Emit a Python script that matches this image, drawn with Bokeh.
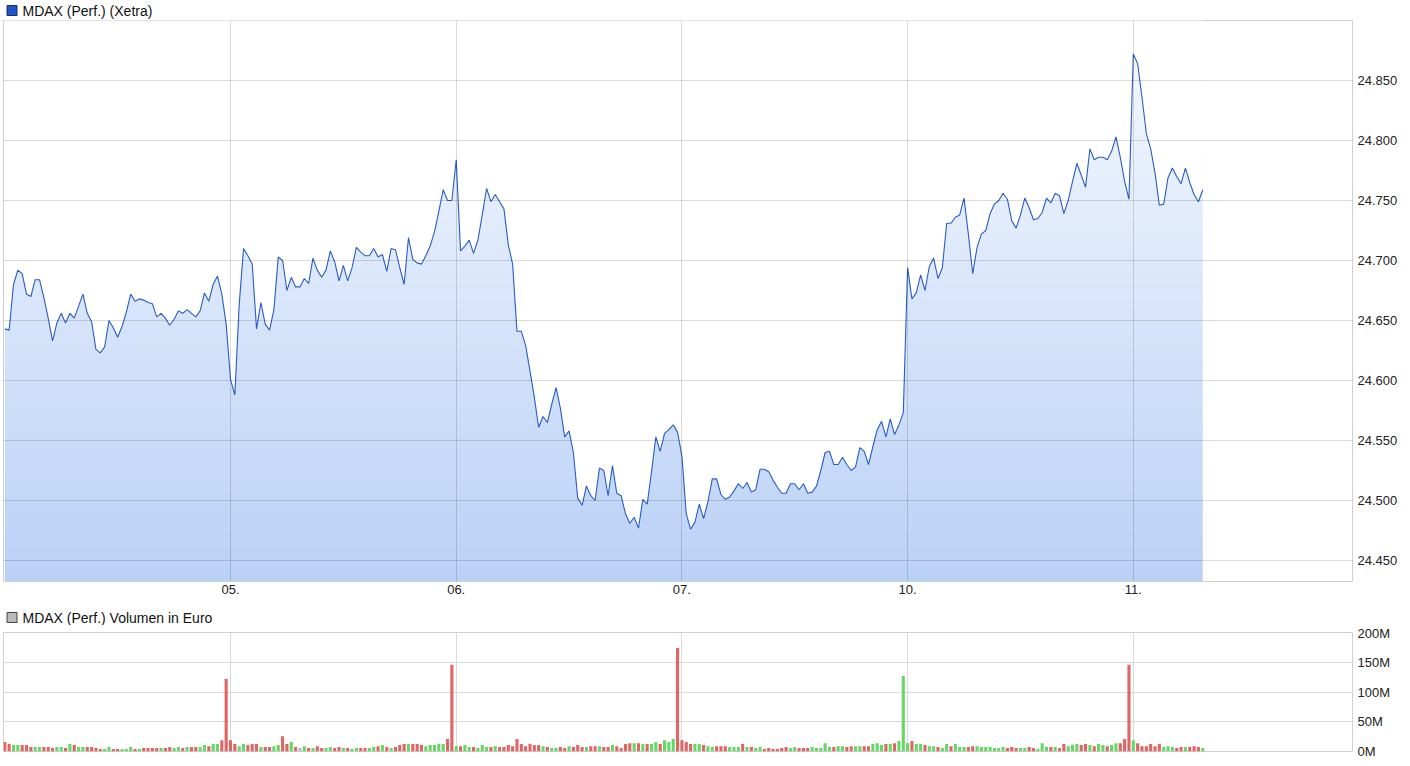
import numpy as np
from bokeh.plotting import figure
from bokeh.layouts import column
from bokeh.core.properties import value
from bokeh.models import (Range1d, FixedTicker, CustomJSTickFormatter, Grid,
                          ColumnDataSource)
from bokeh.embed import file_html
from bokeh.resources import INLINE

# ---------------- data ----------------
points_per_day = 52
day_labels = ["05.", "06.", "07.", "10.", "11."]
price_ticks = [24450, 24500, 24550, 24600, 24650, 24700, 24750, 24800, 24850]
volume_ticks = [0, 50, 100, 150, 200]
price_title = "MDAX (Perf.) (Xetra)"
volume_title = "MDAX (Perf.) Volumen in Euro"

prices = [
    24643, 24642, 24680, 24692, 24689, 24672, 24670, 24684, 24684, 24669,
    24652, 24633, 24648, 24656, 24648, 24656, 24652, 24662, 24672, 24656,
    24649, 24626, 24623, 24628, 24650, 24644, 24636, 24645, 24657, 24672,
    24666, 24668, 24667, 24665, 24664, 24653, 24656, 24652, 24646, 24651,
    24658, 24656, 24659, 24656, 24653, 24658, 24673, 24666, 24680, 24687,
    24672, 24647, 24601, 24588, 24663, 24710, 24704, 24697, 24643, 24665,
    24647, 24642, 24659, 24703, 24700, 24675, 24686, 24678, 24678, 24685,
    24681, 24702, 24692, 24686, 24692, 24708, 24699, 24683, 24696, 24683,
    24694, 24711, 24707, 24704, 24704, 24710, 24703, 24705, 24691, 24710,
    24709, 24694, 24680, 24719, 24701, 24698, 24697, 24704, 24712, 24724,
    24741, 24759, 24750, 24750, 24784, 24708, 24712, 24717, 24706, 24717,
    24738, 24760, 24749, 24755, 24749, 24743, 24713, 24697, 24641, 24641,
    24629, 24608, 24586, 24561, 24570, 24565, 24580, 24594, 24577, 24553,
    24558, 24540, 24502, 24496, 24512, 24504, 24500, 24527, 24525,
    24504, 24529, 24506, 24504, 24489, 24481, 24486, 24477, 24501, 24497,
    24524, 24553, 24541, 24556, 24559, 24563, 24557, 24537, 24489, 24476,
    24482, 24497, 24485, 24499, 24518, 24518, 24505, 24501, 24503, 24508,
    24514, 24510, 24515, 24507, 24509, 24526, 24526, 24524, 24517, 24511,
    24506, 24506, 24514, 24514, 24509, 24514, 24506, 24507, 24512, 24525,
    24540, 24541, 24530, 24530, 24536, 24530, 24525, 24528, 24544, 24541,
    24530, 24545, 24559, 24566, 24553, 24568, 24555, 24563, 24573,
    24694, 24668, 24673, 24688, 24675, 24695, 24702, 24685, 24694, 24731,
    24731, 24736, 24738, 24752, 24722, 24689, 24711, 24722, 24725, 24739,
    24747, 24750, 24756, 24751, 24733, 24727, 24738, 24752, 24744, 24734,
    24735, 24740, 24752, 24748, 24756, 24754, 24739, 24750, 24766, 24781,
    24771, 24761, 24793, 24784, 24786, 24786, 24784, 24791, 24803, 24786,
    24766, 24751, 24872, 24864, 24836, 24806, 24793, 24773, 24746, 24747,
    24769, 24777, 24770, 24764, 24777, 24765, 24755, 24749, 24759,
]

# volume in million euro per interval
volumes_m = [
    16, 12.5, 11, 11, 11, 11, 7.5, 7.5, 7.5, 7.5,
    7.5, 6, 7.5, 7.5, 6, 12.5, 11, 7.5, 7.5, 7.5,
    7.5, 6, 4, 4, 7.5, 4, 4, 4, 4, 7.5,
    4, 4, 6, 6, 6, 6, 6, 6, 7.5, 6,
    7.5, 6, 7.5, 7.5, 7.5, 7.5, 11, 9, 12.5, 12.5,
    19, 122, 19, 12.5, 9, 12.5, 11, 12.5, 12.5, 7.5,
    7.5, 7.5, 9, 11, 25.5, 12.5, 16, 7.5, 6, 9,
    6, 6, 9, 6, 6, 7.5, 6, 7.5, 6, 6,
    4, 6, 6, 6, 6, 7.5, 9, 11, 7.5, 6,
    7.5, 11, 12.5, 12.5, 12.5, 12.5, 11, 9, 11, 11,
    12.5, 12.5, 21, 146, 9, 9, 11, 7.5, 7.5, 6,
    11, 7.5, 7.5, 9, 7.5, 7.5, 11, 9, 21, 12.5,
    9, 12.5, 11, 11, 9, 7.5, 6, 6, 7.5, 6,
    9, 7.5, 11, 7.5, 7.5, 9, 9, 9, 7.5, 7.5,
    11, 9, 6, 12.5, 14, 14, 14, 12.5, 12.5, 12.5,
    16, 12.5, 19, 16, 21, 174, 19, 16, 12.5, 12.5,
    12.5, 11, 9, 7.5, 9, 9, 9, 7.5, 7.5, 7.5,
    12.5, 7.5, 7.5, 6, 7.5, 4, 6, 4, 4, 6,
    7.5, 6, 7.5, 6, 6, 6, 7.5, 6, 6, 14,
    7.5, 7.5, 9, 9, 7.5, 9, 9, 9, 9, 9,
    12.5, 14, 11, 12.5, 12.5, 14, 17.5, 127, 14, 17.5,
    12.5, 12.5, 11, 9, 9, 7.5, 6, 12.5, 9, 12.5,
    7.5, 7.5, 7.5, 9, 9, 7.5, 7.5, 7.5, 6, 6,
    7.5, 6, 7.5, 6, 6, 6, 7.5, 6, 4, 14,
    7.5, 7.5, 7.5, 6, 12.5, 9, 11, 12.5, 11, 12.5,
    11, 9, 12.5, 11, 9, 11, 14, 14, 21, 146,
    19, 14, 9, 9, 12.5, 9, 12.5, 7.5, 9, 7.5,
    6, 7.5, 7.5, 7.5, 9, 7.5, 6,
]

# r = falling, g = rising, n = unchanged
volume_dir = list(
    "rrggrrrggr" "rrggrgrggr" "rrrggrrggg" "rgrrrrgrrg" "grgrrggrgg"
    "rrrrggrrrg" "rrggrrgrng" "rgrrggrrgr" "ggrrggrgrg" "rrrgrrrggg"
    "ggrrgrggrg" "ggrgrrrrrr" "rrrrgrggrr" "grrrgrrgrr" "grrrrgrgrg"
    "grgggrrrrg" "grggrrrggg" "rgrggrrrrr" "rggrrrgggg" "grggrrggrr"
    "gggrgrgggr" "ggrggrggrg" "ggrrgggggg" "grrrggrrgg" "grgrrgggrr"
    "grggrggrrr" "grrrrrrggg" "rrgrrrg"
)

# ---------------- styling ----------------
FONT = "Liberation Sans"
LINE_BLUE = "#2a5cc4"
dir_colors = {"r": "#e06666", "g": "#66d866", "n": "#bbbbbb"}
FRAME_W = 1349
LEFT = 3

N = len(prices)
idx = list(range(N))
day_ticks = [points_per_day * (k + 1) for k in range(len(day_labels))]

x_range = Range1d(-0.3, 310.5)
y_lo, y_hi = 24432.5, 24900


def header(title, swatch_fill, swatch_line, h, cy):
    """Small strip above a chart holding a coloured square and its caption."""
    hp = figure(frame_width=FRAME_W + LEFT, frame_height=h,
                x_range=Range1d(0, FRAME_W + LEFT), y_range=Range1d(0, h),
                x_axis_location=None, y_axis_location=None,
                toolbar_location=None, output_backend="svg",
                min_border_left=0, min_border_right=0, min_border_top=0,
                min_border_bottom=0)
    hp.outline_line_color = None
    hp.xgrid.visible = False
    hp.ygrid.visible = False
    hp.rect(x=[8.5], y=[cy], width=10, height=10, fill_color=swatch_fill,
            line_color=swatch_line, line_width=1)
    hp.text(x=[19], y=[cy], text=[title], text_font=value(FONT),
            text_font_size="14px", text_baseline="middle", text_align="left",
            text_color="#111111")
    return hp


def style_axis(ax, standoff):
    ax.axis_line_color = None
    ax.major_tick_line_color = None
    ax.minor_tick_line_color = None
    ax.major_tick_out = 0
    ax.major_tick_in = 0
    ax.minor_tick_out = 0
    ax.minor_tick_in = 0
    ax.major_label_standoff = standoff
    ax.major_label_text_font = FONT
    ax.major_label_text_font_size = "13px"
    ax.major_label_text_color = "#222222"


# ---------------- price chart ----------------
hdr1 = header(price_title, "#1f56c4", "#1b2f66", 20, 10)

p1 = figure(frame_width=FRAME_W, frame_height=561, x_range=x_range,
            y_range=Range1d(y_lo, y_hi), y_axis_location="right",
            toolbar_location=None, output_backend="svg",
            min_border_left=LEFT, min_border_right=0, min_border_top=0,
            min_border_bottom=24)
p1.outline_line_color = "#d0d0d0"

# vertical gradient under the curve
H = 256
frac = np.linspace(0.0, 1.0, H)[:, None]
c_bottom = np.array([186, 209, 246], dtype=float)
c_top = np.array([247, 250, 255], dtype=float)
rgb = c_bottom + (c_top - c_bottom) * frac
img = np.empty((H, 1), dtype=np.uint32)
view = img.view(dtype=np.uint8).reshape((H, 1, 4))
view[:, 0, 0:3] = np.round(rgb).astype(np.uint8)
view[:, 0, 3] = 255
p1.image_rgba(image=[img], x=0, y=y_lo, dw=N - 1, dh=y_hi - y_lo)
p1.varea(x=idx, y1=prices, y2=[y_hi] * N, fill_color="white", fill_alpha=1.0)
p1.line(idx, prices, line_color=LINE_BLUE, line_width=1.1)

p1.xaxis.ticker = FixedTicker(ticks=day_ticks)
p1.xaxis.formatter = CustomJSTickFormatter(
    args=dict(labels=day_labels, ppd=points_per_day),
    code="return labels[Math.round(tick/ppd) - 1];")
p1.yaxis.ticker = FixedTicker(ticks=price_ticks)
p1.yaxis.formatter = CustomJSTickFormatter(
    code="return tick.toFixed(0).replace(/\\B(?=(\\d{3})+(?!\\d))/g, '.');")
style_axis(p1.xaxis[0], 3)
style_axis(p1.yaxis[0], 5)
for g in (p1.xgrid[0], p1.ygrid[0]):
    g.grid_line_color = "#000000"
    g.grid_line_alpha = 0.14
    g.level = "overlay"

# ---------------- volume chart ----------------
hdr2 = header(volume_title, "#bbbbbb", "#444444", 20, 8)

p2 = figure(frame_width=FRAME_W, frame_height=119, x_range=x_range,
            y_range=Range1d(0, 200), y_axis_location="right",
            x_axis_location=None, toolbar_location=None, output_backend="svg",
            min_border_left=LEFT, min_border_right=0, min_border_top=7,
            min_border_bottom=8)
p2.outline_line_color = "#d0d0d0"
p2.xgrid.visible = False
vsrc = ColumnDataSource(dict(x=idx, top=volumes_m,
                             color=[dir_colors[d] for d in volume_dir]))
p2.vbar(x="x", top="top", width=0.72, source=vsrc, fill_color="color",
        line_color=None)
p2.add_layout(Grid(dimension=0, ticker=FixedTicker(ticks=day_ticks),
                   grid_line_color="#dadada"))
p2.yaxis.ticker = FixedTicker(ticks=volume_ticks)
p2.yaxis.formatter = CustomJSTickFormatter(code="return tick.toFixed(0) + 'M';")
style_axis(p2.yaxis[0], 5)
p2.ygrid.grid_line_color = "#dadada"

layout = column(hdr1, p1, hdr2, p2, spacing=0)
open("out.html", "w").write(file_html(layout, INLINE))
